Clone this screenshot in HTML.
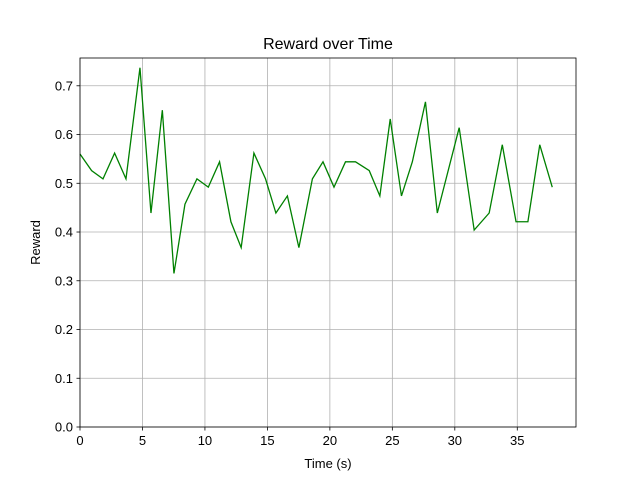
<!DOCTYPE html>
<html><head><meta charset="utf-8"><style>
body{margin:0;background:#fff;font-family:"Liberation Sans","DejaVu Sans",sans-serif}
</style></head><body>
<svg id="chart" width="640" height="480" xmlns="http://www.w3.org/2000/svg"></svg>
<script>
const times=[0,0.93,1.84,2.77,3.68,4.8,5.68,6.59,7.52,8.4,9.36,10.27,11.17,12.08,12.9,13.92,14.85,15.68,16.6,17.52,18.6,19.45,20.33,21.25,22.05,23.15,24.0,24.83,25.73,26.6,27.65,28.6,30.35,31.55,32.75,33.8,34.9,35.85,36.8,37.8];
const rewards=[0.56,0.526,0.509,0.562,0.509,0.737,0.439,0.65,0.315,0.457,0.509,0.492,0.544,0.421,0.368,0.562,0.509,0.439,0.474,0.368,0.509,0.544,0.492,0.544,0.544,0.526,0.474,0.632,0.474,0.544,0.667,0.439,0.614,0.404,0.439,0.579,0.421,0.421,0.579,0.492];
const xTicks=[0,5,10,15,20,25,30,35];
const yTicks=[0,0.1,0.2,0.3,0.4,0.5,0.6,0.7];
const X0=80,X1=576,Y0=427,Y1=58,XMAX=39.7,YMAX=0.757;
const sx=v=>X0+v/XMAX*(X1-X0), sy=v=>Y0-v/YMAX*(Y0-Y1);
const svg=document.getElementById('chart');const NS='http://www.w3.org/2000/svg';
function mk(t,a,txt){const e=document.createElementNS(NS,t);for(const k in a)e.setAttribute(k,a[k]);if(txt!==undefined)e.textContent=txt;svg.appendChild(e);return e;}
xTicks.forEach(t=>{const x=sx(t);
let g=mk('line',{x1:x,x2:x,y1:Y1,y2:Y0,stroke:'#b0b0b0','stroke-width':0.8});

let k=mk('line',{x1:x,x2:x,y1:Y0,y2:Y0+3.5,stroke:'#000','stroke-width':0.8});

let l=mk('text',{x:x,y:Y0+18,'text-anchor':'middle','font-size':13},String(t));
});
yTicks.forEach(t=>{const y=sy(t);
let g=mk('line',{x1:X0,x2:X1,y1:y,y2:y,stroke:'#b0b0b0','stroke-width':0.8});

let k=mk('line',{x1:X0-3.5,x2:X0,y1:y,y2:y,stroke:'#000','stroke-width':0.8});

let l=mk('text',{x:X0-7,y:y+4.5,'text-anchor':'end','font-size':13},t.toFixed(1));
});
let p=mk('polyline',{points:times.map((t,i)=>sx(t)+','+sy(rewards[i])).join(' '),fill:'none',stroke:'#008000','stroke-width':1.3});

let f=mk('rect',{x:X0,y:Y1,width:X1-X0,height:Y0-Y1,fill:'none',stroke:'#000','stroke-width':0.8});

let ti=mk('text',{x:(X0+X1)/2,y:49,'text-anchor':'middle','font-size':16},'Reward over Time');

let xt=mk('text',{x:(X0+X1)/2,y:468,'text-anchor':'middle','font-size':13},'Time (s)');

let yt=mk('text',{x:40,y:(Y0+Y1)/2,'text-anchor':'middle','font-size':13,transform:'rotate(-90 40 '+((Y0+Y1)/2)+')'},'Reward');

</script>
</body></html>
